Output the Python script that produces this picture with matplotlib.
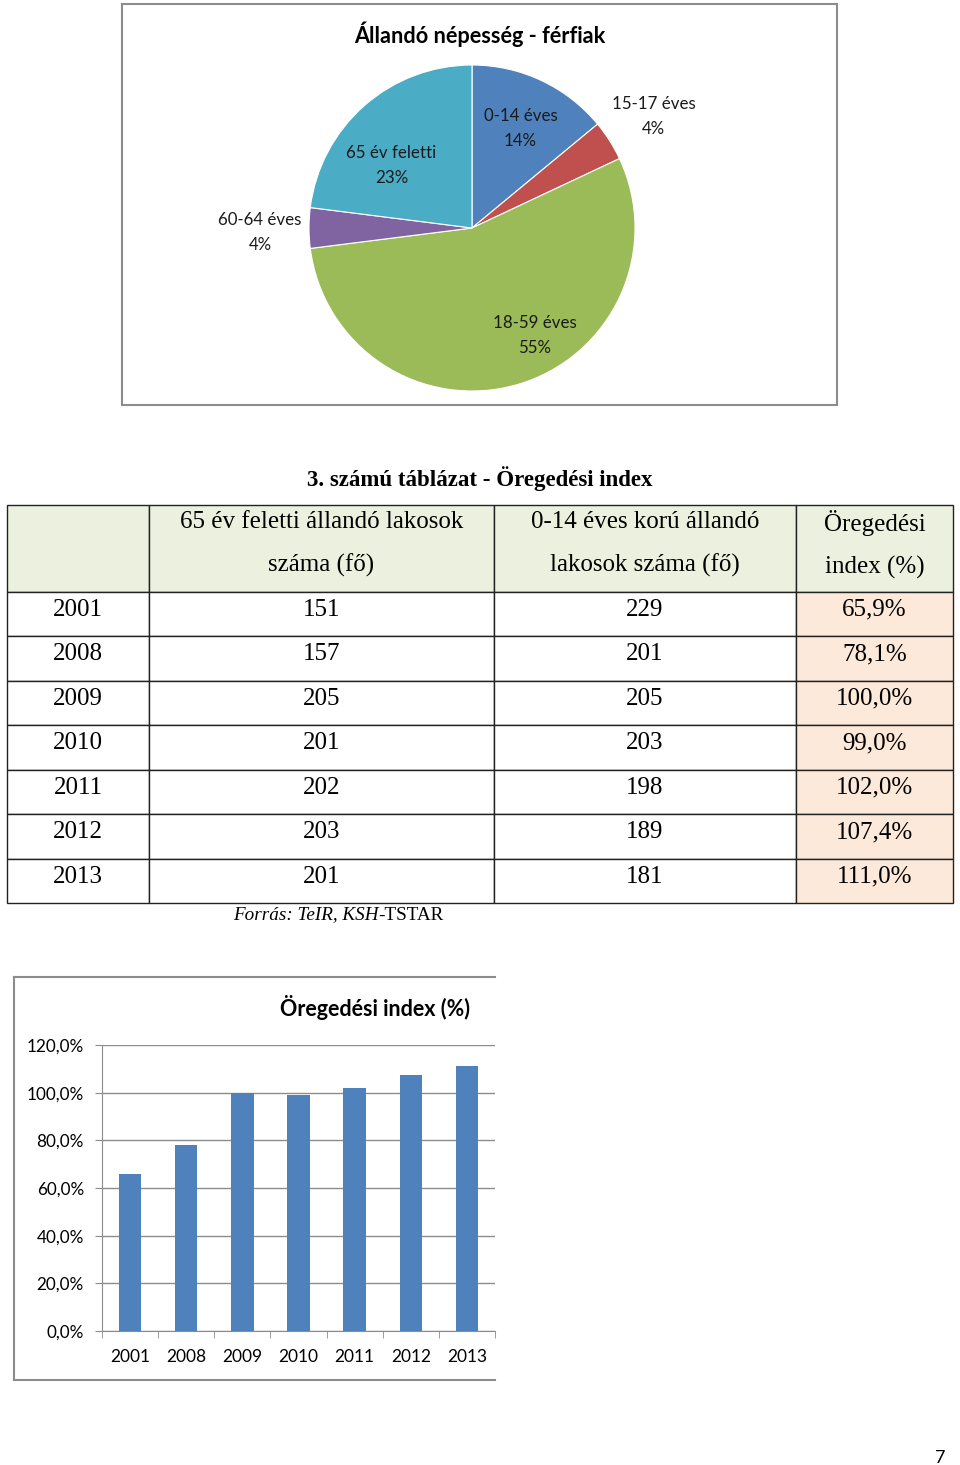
import numpy as np
import matplotlib
matplotlib.use("Agg")
import matplotlib.pyplot as plt
from matplotlib.patches import Rectangle
from matplotlib.lines import Line2D
from matplotlib.transforms import Affine2D

# kördiagram adatai
korcsoport = ["0-14 éves", "15-17 éves", "18-59 éves", "60-64 éves", "65 év feletti"]
arany = [14, 4, 55, 4, 23]
szinek = ["#4F81BD", "#C0504D", "#9BBB59", "#8064A2", "#4BACC6"]

# táblázat adatai
evek = ["2001", "2008", "2009", "2010", "2011", "2012", "2013"]
feletti_65 = [151, 157, 205, 201, 202, 203, 201]
alatti_14 = [229, 201, 205, 203, 198, 189, 181]
oregedesi = [65.9, 78.1, 100.0, 99.0, 102.0, 107.4, 111.0]
fejlec = ["", "65 év feletti állandó lakosok\nszáma (fő)",
          "0-14 éves korú állandó\nlakosok száma (fő)", "Öregedési\nindex (%)"]

W, H = 960, 1465
fig = plt.figure(figsize=(W / 100, H / 100), dpi=100)
fig.patch.set_facecolor("white")


def px_axes(x0, y0, x1, y1):
    # pixel koordinatak (bal felso sarokbol) -> figure fraction
    return fig.add_axes([x0 / W, 1 - y1 / H, (x1 - x0) / W, (y1 - y0) / H])


sans = ["Lato", "DejaVu Sans"]
serif = ["Liberation Serif", "DejaVu Serif"]

# ---------- kördiagram ----------
fig.add_artist(Rectangle((122 / W, 1 - 405 / H), (837 - 122) / W, (405 - 4) / H,
                         transform=fig.transFigure, fill=False, edgecolor="#8c8c8c", lw=1.5))
fig.text(480 / W, 1 - 34 / H, "Állandó népesség - férfiak", ha="center", va="center",
         fontsize=15.6, fontweight="bold", family=sans)

r = 163
ax_pie = px_axes(472 - r, 228 - r, 472 + r, 228 + r)
wedges, _ = ax_pie.pie(arany, colors=szinek, startangle=90, counterclock=False,
                       wedgeprops=dict(edgecolor="white", linewidth=0.8))
ax_pie.set_xlim(-1, 1)
ax_pie.set_ylim(-1, 1)
ax_pie.set_aspect("equal")
ax_pie.axis("off")

cimke_r = [0.70, 1.32, 0.74, 1.30, 0.64]
cimke_eltol = [0, 0, 15, 0, 9]
for w, nev, p, rr, d in zip(wedges, korcsoport, arany, cimke_r, cimke_eltol):
    szog = np.deg2rad((w.theta1 + w.theta2) / 2 + d)
    ax_pie.text(rr * np.cos(szog), rr * np.sin(szog) - 0.025, f"{nev}\n{p}%", ha="center",
                va="center", fontsize=12.2, family=sans, color="#1a1a1a", linespacing=1.7,
                clip_on=False)

# ---------- táblázat ----------
fig.text(480 / W, 1 - 479 / H, "3. számú táblázat - Öregedési index", ha="center",
         va="center", fontsize=16.5, fontweight="bold", family=serif)

ax_tab = px_axes(7, 505, 953, 903)
ax_tab.axis("off")
sorok = [[ev, str(a), str(b), f"{c:.1f}%".replace(".", ",")]
         for ev, a, b, c in zip(evek, feletti_65, alatti_14, oregedesi)]
oszlop_sz = np.array([142, 345, 302, 157], dtype=float)
tabla = ax_tab.table(cellText=sorok, colLabels=fejlec, colWidths=list(oszlop_sz / oszlop_sz.sum()),
                     cellLoc="center", bbox=[0, 0, 1, 1])
tabla.auto_set_font_size(False)
for (i, j), cell in tabla.get_celld().items():
    cell.set_edgecolor("#222222")
    cell.set_linewidth(1.0)
    txt = cell.get_text()
    txt.set_fontfamily(serif)
    txt.set_fontsize(18)
    txt.set_transform(Affine2D().translate(0, 4))
    if i == 0:
        cell.set_height(2 * cell.get_height() * 0.975)
        cell.set_facecolor("#EBF1DE")
        txt.set_linespacing(2.15)
    elif j == 3:
        cell.set_facecolor("#FDE9D9")

forras = ax_tab.annotate("Forrás: TeIR, KSH", xy=(233 / W, 1 - 915 / H), xycoords="figure fraction",
                         ha="left", va="center", fontsize=13.8, style="italic", family=serif,
                         annotation_clip=False)
ax_tab.annotate("-TSTAR", xy=(1, 0), xycoords=forras, ha="left", va="bottom",
                fontsize=13.8, family=serif, annotation_clip=False)

# ---------- oszlopdiagram ----------
szurke = "#8c8c8c"
for xs, ys in [((14, 495), (977, 977)), ((14, 14), (977, 1380)), ((14, 495), (1380, 1380))]:
    fig.add_artist(Line2D([x / W for x in xs], [1 - y / H for y in ys],
                          transform=fig.transFigure, color=szurke, lw=1.5))

fig.text(375 / W, 1 - 1007 / H, "Öregedési index (%)", ha="center", va="center",
         fontsize=15.5, fontweight="bold", family=sans)

ax_bar = px_axes(102, 1045, 495, 1331)
x = np.arange(len(evek))
ax_bar.bar(x, oregedesi, width=0.4, color="#4F81BD", zorder=3)
ax_bar.set_xlim(-0.5, len(evek) - 0.5)
ax_bar.set_ylim(0, 120)
yt = np.arange(0, 121, 20)
ax_bar.set_yticks(yt)
ax_bar.set_yticklabels([f"{v:.1f}%".replace(".", ",") for v in yt], fontsize=12.3,
                       family=sans)
ax_bar.set_xticks(x)
ax_bar.set_xticklabels(evek, fontsize=12.5, family=sans)
ax_bar.set_xticks(np.arange(-0.5, len(evek)), minor=True)
ax_bar.tick_params(axis="x", which="major", length=0, pad=13)
ax_bar.tick_params(axis="x", which="minor", length=5, color=szurke, direction="out")
ax_bar.tick_params(axis="y", length=5, color=szurke, pad=8)
ax_bar.grid(axis="y", color=szurke, lw=1, zorder=0)
for s in ["top", "right"]:
    ax_bar.spines[s].set_visible(False)
for s in ["left", "bottom"]:
    ax_bar.spines[s].set_color(szurke)

fig.text(940 / W, 1 - 1458 / H, "7", ha="center", va="center", fontsize=13, family=sans)

fig.savefig("out.png", dpi=100, facecolor="white")
